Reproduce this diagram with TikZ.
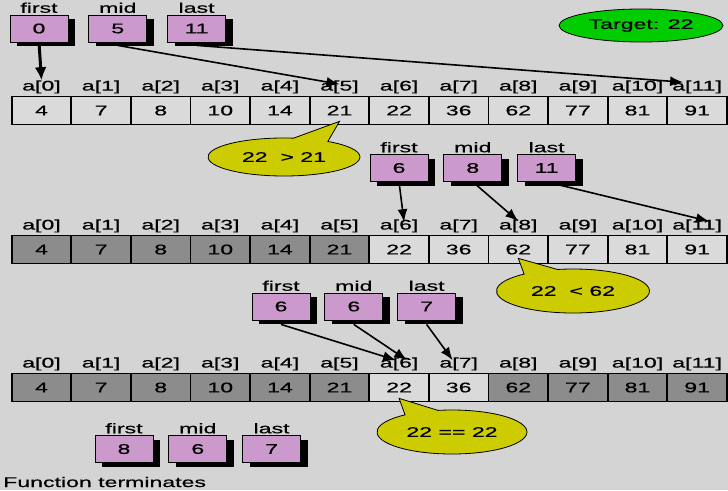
\documentclass[tikz,border=0pt]{standalone}
\usepackage{fontspec}
\setmainfont{Liberation Sans}[FakeStretch=1.65,FakeBold=0.6]
\usetikzlibrary{arrows.meta,positioning,shapes.geometric,shapes.callouts,shadows}

\definecolor{bggray}{RGB}{212,212,212}
\definecolor{cellon}{RGB}{218,218,218}
\definecolor{celloff}{RGB}{140,140,140}
\definecolor{ptrpink}{RGB}{204,153,204}
\definecolor{bubbleyellow}{RGB}{204,204,0}
\definecolor{targetgreen}{RGB}{0,204,0}

\tikzset{
  cell/.style={draw=black, line width=1.7pt, minimum width=59.6pt, minimum height=28pt, inner sep=0pt},
  idx/.style={inner sep=0pt},
  ptr/.style={draw=black, line width=0.8pt, fill=ptrpink, minimum width=58pt, minimum height=27pt, inner sep=0pt,
    drop shadow={shadow xshift=7pt, shadow yshift=-4pt, fill=black, opacity=1}},
  ptrname/.style={inner sep=0pt},
  ptrarrow/.style={line width=1.6pt, -{Latex[length=13pt,width=10pt]}},
  bubble/.style={ellipse callout, draw=black, line width=0.8pt, fill=bubbleyellow, inner sep=0pt, callout pointer arc=28},
}

\begin{document}
\begin{tikzpicture}[x=1pt, y=-1pt, every node/.style={font=\fontsize{14}{16}\selectfont}]
  \fill[bggray] (0,0) rectangle (728,490);
  \useasboundingbox (0,0) rectangle (728,490);

  % target
  \node[ellipse, draw=black, line width=0.8pt, fill=targetgreen, minimum width=164pt, minimum height=33pt, inner sep=0pt] (target) at (641,25.5) {Target: 22};

  % row 1
  \foreach \v/\s [count=\i from 0] in {4/cellon,7/cellon,8/cellon,10/cellon,14/cellon,21/cellon,22/cellon,36/cellon,62/cellon,77/cellon,81/cellon,91/cellon} {
    \node[cell, fill=\s] (c1-\i) at ({41.5+59.6*\i},110.5) {\v};
    \node[idx, above=2pt of c1-\i] (l1-\i) {a[\i]};
  }
  \node[ptr] (r1f) at (39,28.5) {0};
  \node[ptr, right=20pt of r1f] (r1m) {5};
  \node[ptr, right=20pt of r1m] (r1l) {11};
  \node[ptrname, above=1.5pt of r1f] (n1f) {first};
  \node[ptrname, above=1.5pt of r1m] (n1m) {mid};
  \node[ptrname, above=1.5pt of r1l] (n1l) {last};
  \draw[line width=3pt, -{Latex[length=13pt,width=12pt]}] (r1f.south) -- (l1-0.north);
  \draw[ptrarrow] ([yshift=-3pt]r1m.south) -- ([yshift=-4pt]l1-5.north);
  \draw[ptrarrow] ([yshift=-3pt]r1l.south) -- ([xshift=-14pt,yshift=-2pt]l1-11.north);
  \node[bubble, minimum width=152pt, minimum height=38pt, callout absolute pointer={([yshift=4pt]c1-5.south)}] (b1) at (284,157) {22~~> 21};

  % row 2
  \foreach \v/\s [count=\i from 0] in {4/celloff,7/celloff,8/celloff,10/celloff,14/celloff,21/celloff,22/cellon,36/cellon,62/cellon,77/cellon,81/cellon,91/cellon} {
    \node[cell, fill=\s] (c2-\i) at ({41.5+59.6*\i},249.5) {\v};
    \node[idx, above=2pt of c2-\i] (l2-\i) {a[\i]};
  }
  \node[ptr] (r2f) at (399,168) {6};
  \node[ptr, right=15pt of r2f] (r2m) {8};
  \node[ptr, right=15pt of r2m] (r2l) {11};
  \node[ptrname, above=1.5pt of r2f] (n2f) {first};
  \node[ptrname, above=1.5pt of r2m] (n2m) {mid};
  \node[ptrname, above=1.5pt of r2l] (n2l) {last};
  \draw[ptrarrow] (r2f.south) -- ([xshift=5pt,yshift=-3pt]l2-6.north);
  \draw[ptrarrow] (r2m.south) -- ([yshift=-2pt]l2-8.north);
  \draw[ptrarrow] (r2l.south) -- ([xshift=12pt,yshift=-2pt]l2-11.north);
  \node[bubble, minimum width=153pt, minimum height=44pt, callout absolute pointer={([yshift=6pt]c2-8.south)}] (b2) at (573,291) {22~~< 62};

  % row 3
  \foreach \v/\s [count=\i from 0] in {4/celloff,7/celloff,8/celloff,10/celloff,14/celloff,21/celloff,22/cellon,36/cellon,62/celloff,77/celloff,81/celloff,91/celloff} {
    \node[cell, fill=\s] (c3-\i) at ({41.5+59.6*\i},387.5) {\v};
    \node[idx, above=2pt of c3-\i] (l3-\i) {a[\i]};
  }
  \node[ptr] (r3f) at (281,306.5) {6};
  \node[ptr, right=14pt of r3f] (r3m) {6};
  \node[ptr, right=14pt of r3m] (r3l) {7};
  \node[ptrname, above=1.5pt of r3f] (n3f) {first};
  \node[ptrname, above=1.5pt of r3m] (n3m) {mid};
  \node[ptrname, above=1.5pt of r3l] (n3l) {last};
  \draw[ptrarrow] ([yshift=-4pt]r3f.south) -- ([xshift=-3pt,yshift=-3pt]l3-6.north);
  \draw[ptrarrow] ([yshift=-4pt]r3m.south) -- ([xshift=8pt,yshift=-3pt]l3-6.north);
  \draw[ptrarrow] ([yshift=-4pt]r3l.south) -- ([xshift=-6pt,yshift=-3pt]l3-7.north);
  \node[bubble, minimum width=150pt, minimum height=44pt, callout absolute pointer={([yshift=4pt]c3-6.south)}] (b3) at (452,432) {22 == 22};

  % final state
  \node[ptr] (r4f) at (124,449) {8};
  \node[ptr, right=15pt of r4f] (r4m) {6};
  \node[ptr, right=15pt of r4m] (r4l) {7};
  \node[ptrname, above=1.5pt of r4f] (n4f) {first};
  \node[ptrname, above=1.5pt of r4m] (n4m) {mid};
  \node[ptrname, above=1.5pt of r4l] (n4l) {last};
  \node[inner sep=0pt, anchor=base west] (done) at (3,487) {Function terminates};
\end{tikzpicture}
\end{document}
